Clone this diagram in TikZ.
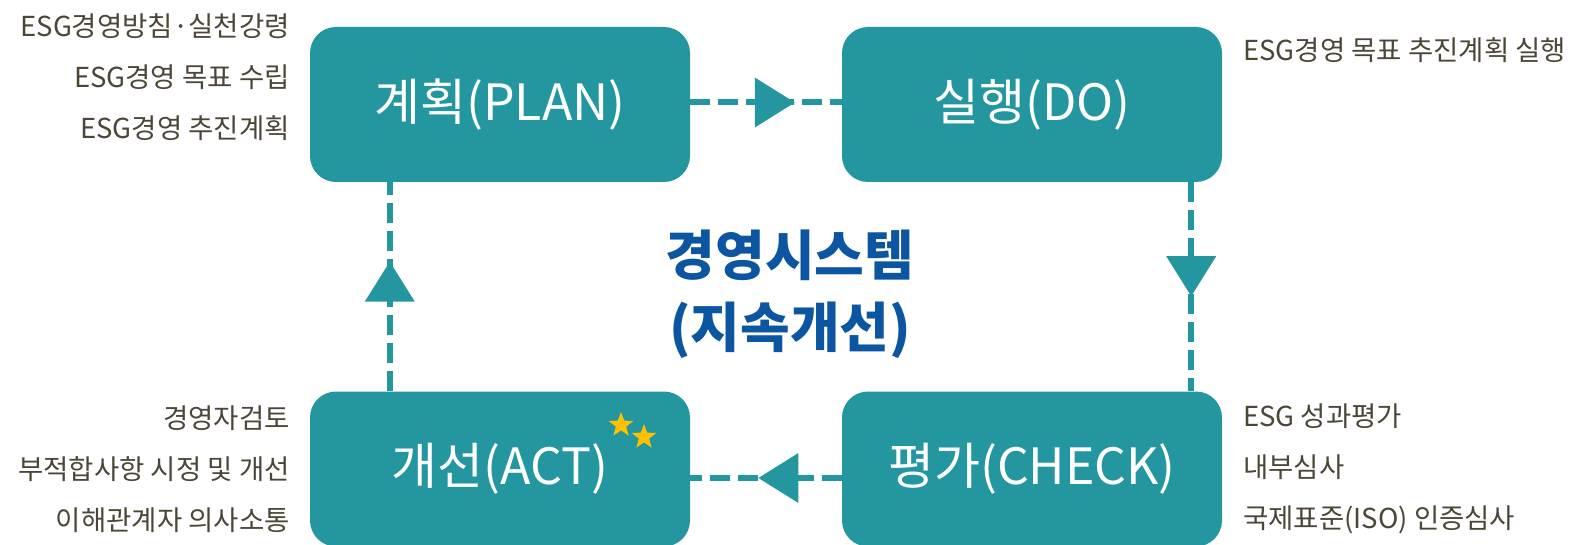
\documentclass[tikz,border=0pt]{standalone}
\usepackage{fontspec}
\setmainfont{Noto Sans CJK KR}
\usetikzlibrary{shapes.geometric,decorations.markings}

\definecolor{pdcateal}{HTML}{2396A0}
\definecolor{pdcablue}{HTML}{0C55A0}
\definecolor{notegray}{HTML}{4B4636}
\definecolor{stargold}{HTML}{FFC000}

\tikzset{
    stage/.style={rectangle, rounded corners=26pt, fill=pdcateal, text=white,
        minimum width=380pt, minimum height=155pt, font=\fontsize{50}{58}\selectfont},
    note/.style={text=notegray, inner sep=0pt, font=\fontsize{27.5}{51}\selectfont},
    flow/.style={draw=pdcateal, line width=6pt, dash pattern=on 20pt off 8pt},
    midtip/.style={postaction=decorate, decoration={markings, mark=at position #1 with
        {\fill[pdcateal] (0pt,0pt) -- (-40pt,25pt) -- (-40pt,-25pt) -- cycle;}}},
    goldstar/.style={star, star points=5, star point ratio=2.4, fill=stargold,
        inner sep=0pt, minimum size=26pt},
}

\begin{document}
\begin{tikzpicture}[x=1pt, y=-1pt]
            \useasboundingbox (0,0) rectangle (1569,545);
            % the four stages
            \node[stage] (plan) at (500,104.5) {계획(PLAN)};
            \node[stage] (do) at (1032,104.5) {실행(DO)};
            \node[stage] (check) at (1032,469) {평가(CHECK)};
            \node[stage] (act) at (500,469) {개선(ACT)};
            \node[goldstar] (star1) at (621,425) {};
            \node[goldstar] (star2) at (644,437) {};
            % cycle
            \draw[flow, midtip=0.69] ([yshift=2pt]plan.east) -- ([yshift=2pt]do.west);
            \draw[flow, midtip=0.545] ([xshift=-31pt]do.south east) -- ([xshift=-31pt]check.north east);
            \draw[flow, midtip=0.55] ([yshift=-9pt]check.west) -- ([yshift=-9pt]act.east);
            \draw[flow, midtip=0.62] ([xshift=80pt]act.north west) -- ([xshift=80pt]plan.south west);
            \node[text=pdcablue, align=center, font=\bfseries\fontsize{54}{72}\selectfont] (title) at (790,294) {경영시스템\\(지속개선)};
            % notes
            \node[note, align=right, anchor=east] (plannote) at (290,77) {ESG경영방침·실천강령\\ESG경영 목표 수립\\ESG경영 추진계획};
            \node[note, align=left, anchor=west] (donote) at (1243,50) {ESG경영 목표 추진계획 실행};
            \node[note, align=left, anchor=west] (checknote) at (1243,469) {ESG 성과평가\\내부심사\\국제표준(ISO) 인증심사};
            \node[note, align=right, anchor=east] (actnote) at (290,469) {경영자검토\\부적합사항 시정 및 개선\\이해관계자 의사소통};
        \end{tikzpicture}
\end{document}
